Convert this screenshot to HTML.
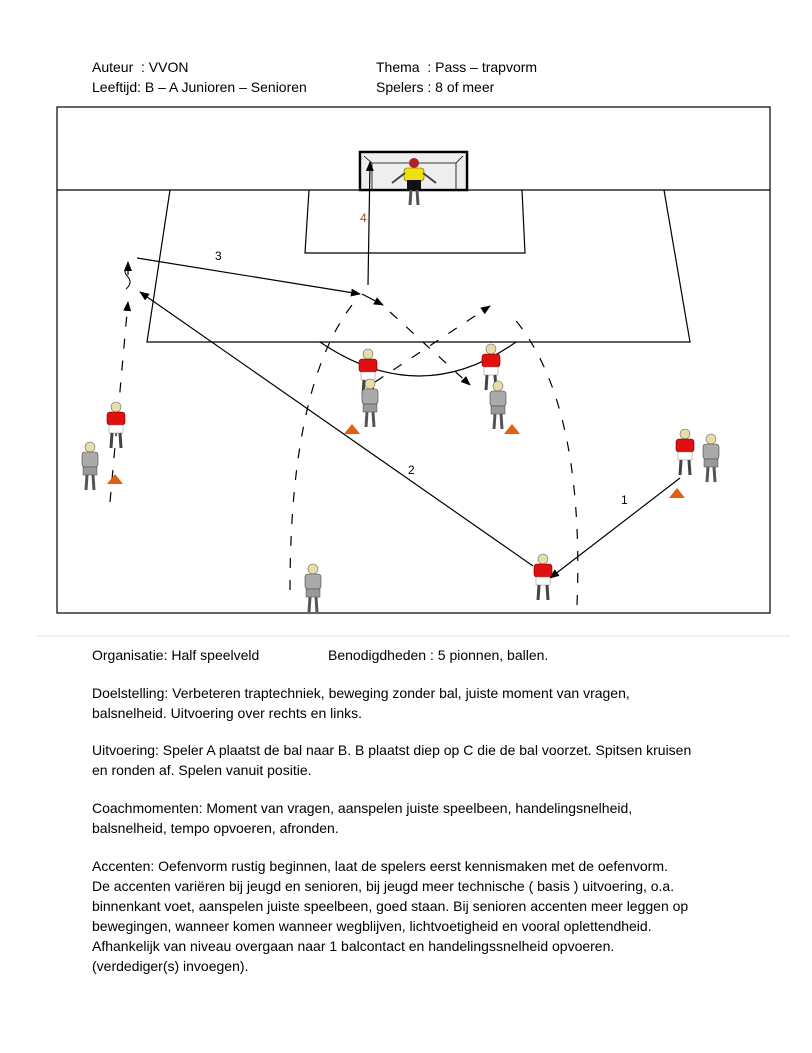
<!DOCTYPE html>
<html><head><meta charset="utf-8"><style>
body{margin:0;background:#fff;width:812px;height:1053px;position:relative;font-family:"Liberation Sans",Arial,sans-serif;font-size:14px;color:#000;overflow:hidden}
.t{position:absolute;white-space:nowrap;line-height:20px}
</style></head><body>
<div class="t" style="left:92px;top:57px">Auteur&nbsp; : VVON</div>
<div class="t" style="left:92px;top:77px">Leeftijd: B – A Junioren – Senioren</div>
<div class="t" style="left:376px;top:57px">Thema&nbsp; : Pass – trapvorm</div>
<div class="t" style="left:376px;top:77px">Spelers : 8 of meer</div>
<svg style="position:absolute;left:0;top:0" width="812" height="640">
<defs>
<marker id="a" markerWidth="10" markerHeight="8" refX="9" refY="4" orient="auto" markerUnits="userSpaceOnUse"><path d="M0,0L10,4L0,8z" fill="#000"/></marker>
<g id="pr"><circle cx="0" cy="-21" r="5" fill="#e8dca8" stroke="#666" stroke-width=".6"/><rect x="-9" y="-16" width="18" height="13" rx="3" fill="#e01010" stroke="#600" stroke-width=".6"/><rect x="-7" y="-3" width="14" height="8" fill="#fff" stroke="#888" stroke-width=".5"/><path d="M-4,5L-5,20M4,5L5,20" stroke="#444" stroke-width="3"/></g>
<g id="pg"><circle cx="0" cy="-21" r="5" fill="#e8dca8" stroke="#666" stroke-width=".6"/><rect x="-8" y="-16" width="16" height="15" rx="3" fill="#aaa" stroke="#444" stroke-width=".6"/><rect x="-7" y="-1" width="14" height="8" fill="#999" stroke="#444" stroke-width=".5"/><path d="M-3,7L-4,22M3,7L4,22" stroke="#555" stroke-width="3"/></g>
<g id="c"><path d="M-8,4L0,-6L8,4z" fill="#e06010"/></g>
</defs>
<rect x="362" y="154" width="103" height="34" fill="#eee"/>
<g fill="none" stroke="#000" stroke-width="1.2">
<rect x="57" y="107" width="713" height="506"/>
<line x1="57" y1="190" x2="770" y2="190"/>
<path d="M170,190L147,342L690,342L664,190"/>
<path d="M309,190L305,253L525,253L522,190"/>
<rect x="360" y="152" width="107" height="38" stroke-width="2.5"/>
<path d="M364,156L372,163L456,163L463,156M372,163L372,190M456,163L456,190" stroke-width=".8"/>
<path d="M320,342Q420,410 516,342"/>
<line x1="137" y1="258" x2="360" y2="294" marker-end="url(#a)"/>
<line x1="362" y1="294" x2="383" y2="305" marker-end="url(#a)"/>
<line x1="533" y1="566" x2="140" y2="292" marker-end="url(#a)"/>
<line x1="680" y1="478" x2="550" y2="578" marker-end="url(#a)"/>
<line x1="368" y1="285" x2="370" y2="162" marker-end="url(#a)"/>
<g stroke-dasharray="10,12">
<line x1="110" y1="502" x2="128" y2="302" marker-end="url(#a)"/>
<path d="M290,590Q290,380 356,300"/>
<path d="M577,605Q585,400 512,316"/>
<line x1="390" y1="312" x2="470" y2="385" marker-end="url(#a)"/>
<line x1="375" y1="382" x2="490" y2="306" marker-end="url(#a)"/>
</g>
<path d="M128,265q-6,6 0,12q5,6 -2,12" stroke-width="1"/>
<line x1="128" y1="275" x2="128" y2="262" marker-end="url(#a)"/>
</g>
<g font-size="12" font-family="Liberation Sans,sans-serif"><text x="215" y="260">3</text><text x="360" y="222" fill="#a05020">4</text><text x="408" y="474">2</text><text x="621" y="504">1</text></g>
<g transform="translate(414,183)"><circle cx="0" cy="-20" r="5" fill="#b02020"/><rect x="-10" y="-15" width="20" height="13" rx="3" fill="#f0e010" stroke="#660" stroke-width=".6"/><path d="M-9,-10L-22,0M9,-10L22,0" stroke="#444" stroke-width="2"/><rect x="-7" y="-3" width="14" height="10" fill="#111"/><path d="M-3,7L-4,22M3,7L4,22" stroke="#555" stroke-width="3"/></g>
<use href="#pr" x="368" y="375"/><use href="#pg" x="370" y="405"/><use href="#c" x="352" y="430"/>
<use href="#pr" x="491" y="370"/><use href="#pg" x="498" y="407"/><use href="#c" x="512" y="430"/>
<use href="#pr" x="116" y="428"/><use href="#pg" x="90" y="468"/><use href="#c" x="115" y="480"/>
<use href="#pr" x="685" y="455"/><use href="#pg" x="711" y="460"/><use href="#c" x="677" y="494"/>
<use href="#pr" x="543" y="580"/><use href="#pg" x="313" y="590"/>
<line x1="36" y1="636" x2="790" y2="636" stroke="#e4e4e4" stroke-width="1"/>
</svg>
<div class="t" style="left:92px;top:645px">Organisatie: Half speelveld</div>
<div class="t" style="left:328px;top:645px">Benodigdheden : 5 pionnen, ballen.</div>
<div class="t" style="left:92px;top:683px">Doelstelling: Verbeteren traptechniek, beweging zonder bal, juiste moment van vragen,<br>balsnelheid. Uitvoering over rechts en links.</div>
<div class="t" style="left:92px;top:740px">Uitvoering: Speler A plaatst de bal naar B. B plaatst diep op C die de bal voorzet. Spitsen kruisen<br>en ronden af. Spelen vanuit positie.</div>
<div class="t" style="left:92px;top:798px">Coachmomenten: Moment van vragen, aanspelen juiste speelbeen, handelingsnelheid,<br>balsnelheid, tempo opvoeren, afronden.</div>
<div class="t" style="left:92px;top:856px">Accenten: Oefenvorm rustig beginnen, laat de spelers eerst kennismaken met de oefenvorm.<br>De accenten variëren bij jeugd en senioren, bij jeugd meer technische ( basis ) uitvoering, o.a.<br>binnenkant voet, aanspelen juiste speelbeen, goed staan. Bij senioren accenten meer leggen op<br>bewegingen, wanneer komen wanneer wegblijven, lichtvoetigheid en vooral oplettendheid.<br>Afhankelijk van niveau overgaan naar 1 balcontact en handelingssnelheid opvoeren.<br>(verdediger(s) invoegen).</div>
</body></html>
